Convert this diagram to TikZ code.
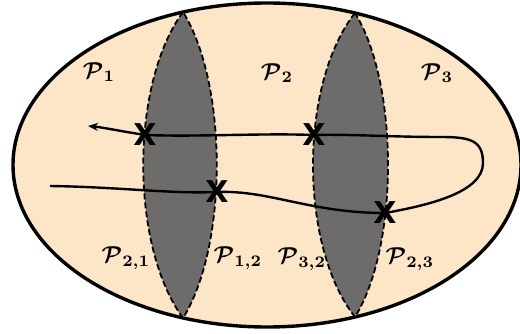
\documentclass[tikz,border=0pt]{standalone}
\usepackage{amsmath,amssymb,bm}
\usepackage{fontspec}
\newfontfamily\crossfont{DejaVu Sans}
\usetikzlibrary{arrows.meta}
\definecolor{peach}{RGB}{253,230,200}
\definecolor{lensgray}{RGB}{110,107,107}

\begin{document}
\begin{tikzpicture}[x=1pt, y=-1pt,
				region/.style={draw, line width=3.4pt, fill=peach},
				overlap/.style={draw, dash pattern=on 6pt off 3pt, line width=1.8pt, fill=lensgray},
				lbl/.style={scale=2.3, inner sep=0pt},
				cross/.style={scale=3, font=\crossfont\bfseries, inner sep=0pt},
				traj/.style={line width=2.4pt, -{Stealth[length=10pt, width=8pt]}}	]
				\useasboundingbox (0,0) rectangle (520,334);
				
				% domain and the two overlap zones
				\draw[region] (267,165) ellipse [x radius=254, y radius=162];
				\draw[overlap] (183,12) .. controls (130,84) and (130,246) .. (183,318) .. controls (228,246) and (228,84) .. (183,12) -- cycle;
				\draw[overlap] (355,13) .. controls (299,84) and (299,246) .. (355,317) .. controls (399,246) and (399,84) .. (355,13) -- cycle;
				
				\node[lbl] (p1) at (99,72) {$\bm{\mathcal{P}_{1}}$};
				\node[lbl] (p2) at (277,73) {$\bm{\mathcal{P}_{2}}$};
				\node[lbl] (p3) at (437,73) {$\bm{\mathcal{P}_{3}}$};
				\node[lbl] (p21) at (126,258) {$\bm{\mathcal{P}_{2,1}}$};
				\node[lbl] (p12) at (238,258) {$\bm{\mathcal{P}_{1,2}}$};
				\node[lbl] (p32) at (302,259) {$\bm{\mathcal{P}_{3,2}}$};
				\node[lbl] (p23) at (410,259) {$\bm{\mathcal{P}_{2,3}}$};
				
				\node[cross] (x21) at (145,135) {X};
				\node[cross] (x32) at (314,135) {X};
				\node[cross] (x12) at (217,192) {X};
				\node[cross] (x23) at (385,213) {X};
				
				\coordinate (start) at (50,186);
				\coordinate (turn) at (483,163);
				\coordinate (tip) at (88,126);
				\draw[traj] (start) .. controls (120,187) and (170,194) .. (x12.center) .. controls (270,190) and (310,213) .. (x23.center) .. controls (430,205) and (483,192) .. (turn) .. controls (483,140) and (470,137) .. (440,137) .. controls (390,137) and (350,134) .. (x32.center) .. controls (260,133) and (200,137) .. (x21.center) .. controls (120,131) and (100,127) .. (tip);
			\end{tikzpicture}
\end{document}
